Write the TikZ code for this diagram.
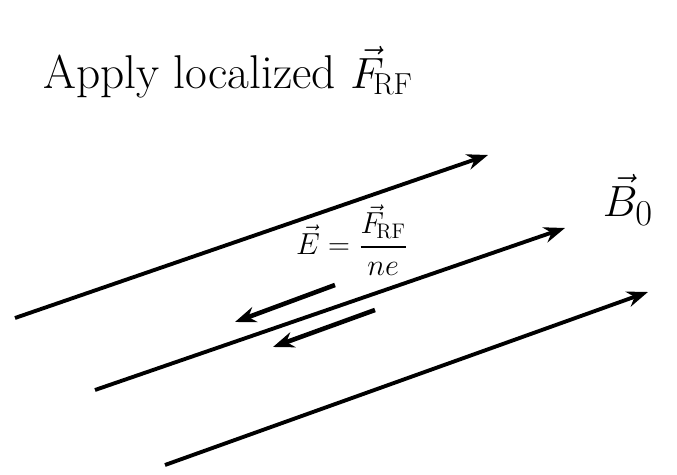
\documentclass[tikz,border=0pt]{standalone}
\usepackage{amsmath}
\usetikzlibrary{arrows.meta}

\begin{document}
\begin{tikzpicture}[x=0.02cm,y=-0.02cm,>={Stealth[length=12pt,width=9pt]},
    fieldline/.style={->,line width=2.2pt},
    driftarrow/.style={->,line width=2.6pt}]
  \useasboundingbox (0,0) rectangle (677,475);

  % title
  \node[font=\fontsize{27}{30}\selectfont] (title) at (228,72)
    {Apply localized $\vec F_{\!\mathrm{RF}}$};

  % field lines of B0
  \coordinate (b1s) at (15,318);  \coordinate (b1e) at (488,155);
  \coordinate (b2s) at (95,390);  \coordinate (b2e) at (565,228);
  \coordinate (b3s) at (165,465); \coordinate (b3e) at (648,292);
  \draw[fieldline] (b1s) -- (b1e);
  \draw[fieldline] (b2s) -- (b2e);
  \draw[fieldline] (b3s) -- (b3e);
  \node[font=\fontsize{30}{34}\selectfont] (bfield) at (628,200) {$\vec B_0$};

  % localized electric field
  \node[font=\fontsize{18}{21}\selectfont] (efield) at (352,240)
    {$\vec E = \dfrac{\vec F_{\!\mathrm{RF}}}{ne}$};
  \coordinate (e1s) at (335,285); \coordinate (e1e) at (235,322);
  \coordinate (e2s) at (375,310); \coordinate (e2e) at (273,347);
  \draw[driftarrow] (e1s) -- (e1e);
  \draw[driftarrow] (e2s) -- (e2e);
\end{tikzpicture}
\end{document}
